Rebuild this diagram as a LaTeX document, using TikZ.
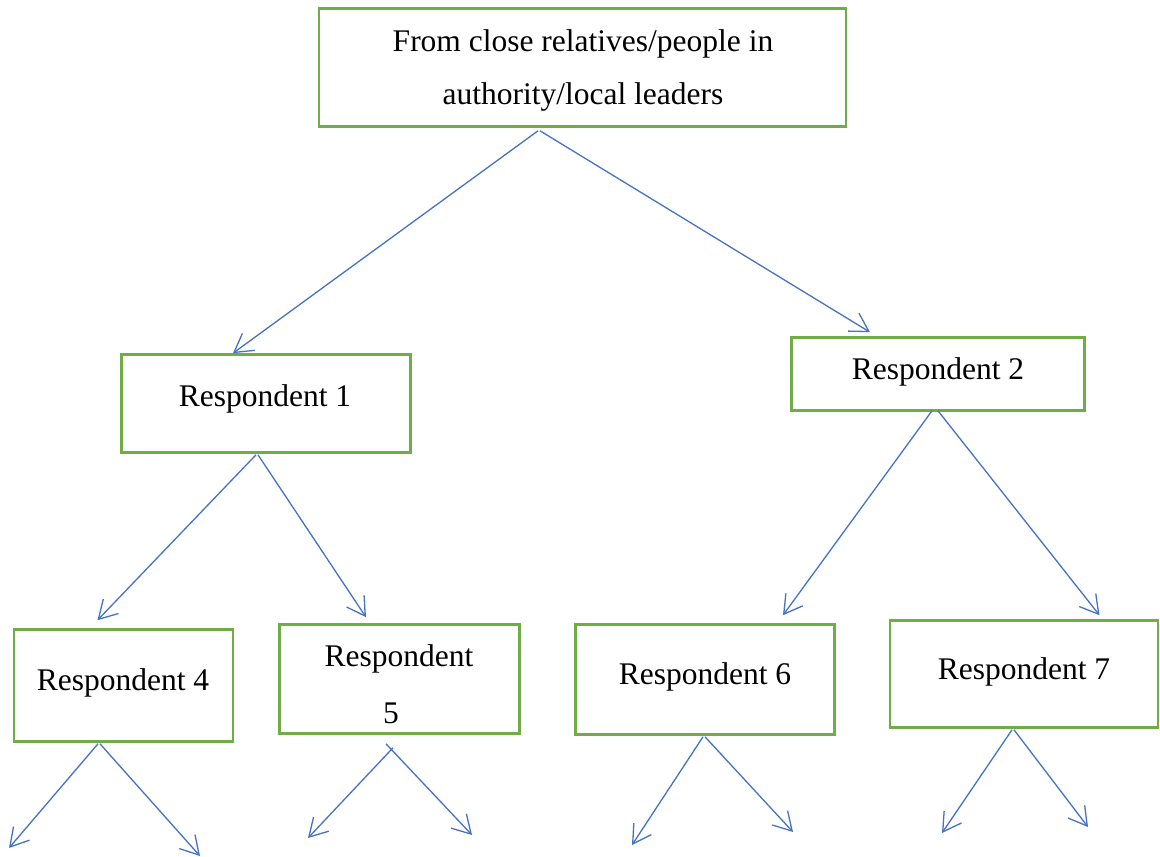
\documentclass[tikz,border=0pt]{standalone}
\usepackage{fontspec}
\setmainfont{Liberation Serif}
\usetikzlibrary{arrows.meta}
\definecolor{boxgreen}{HTML}{70AD47}
\definecolor{arrblue}{HTML}{4472C4}
\tikzset{
  box/.style={draw=boxgreen, line width=2.6pt, rectangle, inner sep=0pt, fill=none},
  txt/.style={anchor=base, inner sep=0pt, font=\fontsize{31.5}{53}\selectfont, text=black},
  arr/.style={draw=arrblue, line width=1.3pt, -{Straight Barb[length=18pt, width=21pt, line width=1.3pt]}},
}
\begin{document}
\begin{tikzpicture}[x=1pt, y=-1pt]
\useasboundingbox (0,0) rectangle (1160,857);
% boxes
\node[box, minimum width=527pt, minimum height=118pt] (top) at (582.5,67.5) {};
\node[box, minimum width=289pt, minimum height=98pt] (r1) at (266,403.5) {};
\node[box, minimum width=293pt, minimum height=73pt] (r2) at (938,374) {};
\node[box, minimum width=219pt, minimum height=112pt] (r4) at (123.5,685.5) {};
\node[box, minimum width=240pt, minimum height=109pt] (r5) at (399.5,679) {};
\node[box, minimum width=259pt, minimum height=110pt] (r6) at (705,679.5) {};
\node[box, minimum width=268pt, minimum height=107pt] (r7) at (1024,674) {};
% texts
\node[txt] (t1) at (583,51) {From close relatives/people in};
\node[txt] (t2) at (583,104) {authority/local leaders};
\node[txt] (r1t) at (265,406) {Respondent 1};
\node[txt] (r2t) at (938,379) {Respondent 2};
\node[txt] (r4t) at (123,690) {Respondent 4};
\node[txt] (r5t) at (399,666) {Respondent};
\node[txt] (r5n) at (391,723) {5};
\node[txt] (r6t) at (705,684) {Respondent 6};
\node[txt] (r7t) at (1024,679) {Respondent 7};
% free ends
\coordinate (e4a) at (9,848);
\coordinate (e4b) at (200,856);
\coordinate (e5a) at (308,838);
\coordinate (e5b) at (472,835);
\coordinate (e6a) at (632,845);
\coordinate (e6b) at (793,832);
\coordinate (e7a) at (942,833);
\coordinate (e7b) at (1088,827);
% connectors
\draw[arr] ([xshift=-44.5pt,yshift=-3pt]top.south) -- ([xshift=-33pt]r1.north);
\draw[arr] ([xshift=-42.5pt,yshift=-3pt]top.south) -- ([xshift=-68pt,yshift=4pt]r2.north);
\draw[arr] ([xshift=-10pt,yshift=-1pt]r1.south) -- ([xshift=-26pt,yshift=8pt]r4.north);
\draw[arr] ([xshift=-8pt,yshift=-1pt]r1.south) -- ([xshift=-33.5pt,yshift=6pt]r5.north);
\draw[arr] ([xshift=-6pt,yshift=1pt]r2.south) -- ([xshift=78pt,yshift=8pt]r6.north);
\draw[arr] ([xshift=0pt,yshift=1pt]r2.south) -- ([xshift=75.5pt,yshift=4pt]r7.north);
\draw[arr] ([xshift=-25.5pt,yshift=-1pt]r4.south) -- (e4a);
\draw[arr] ([xshift=-23.5pt,yshift=-1pt]r4.south) -- (e4b);
\draw[arr] ([xshift=-6.5pt,yshift=-13pt]r5.south) -- (e5a);
\draw[arr] ([xshift=-13.5pt,yshift=-9pt]r5.south) -- (e5b);
\draw[arr] ([xshift=-2pt,yshift=-1pt]r6.south) -- (e6a);
\draw[arr] ([xshift=0pt,yshift=-1pt]r6.south) -- (e6b);
\draw[arr] ([xshift=-12pt,yshift=-1pt]r7.south) -- (e7a);
\draw[arr] ([xshift=-10pt,yshift=-1pt]r7.south) -- (e7b);
\end{tikzpicture}
\end{document}
